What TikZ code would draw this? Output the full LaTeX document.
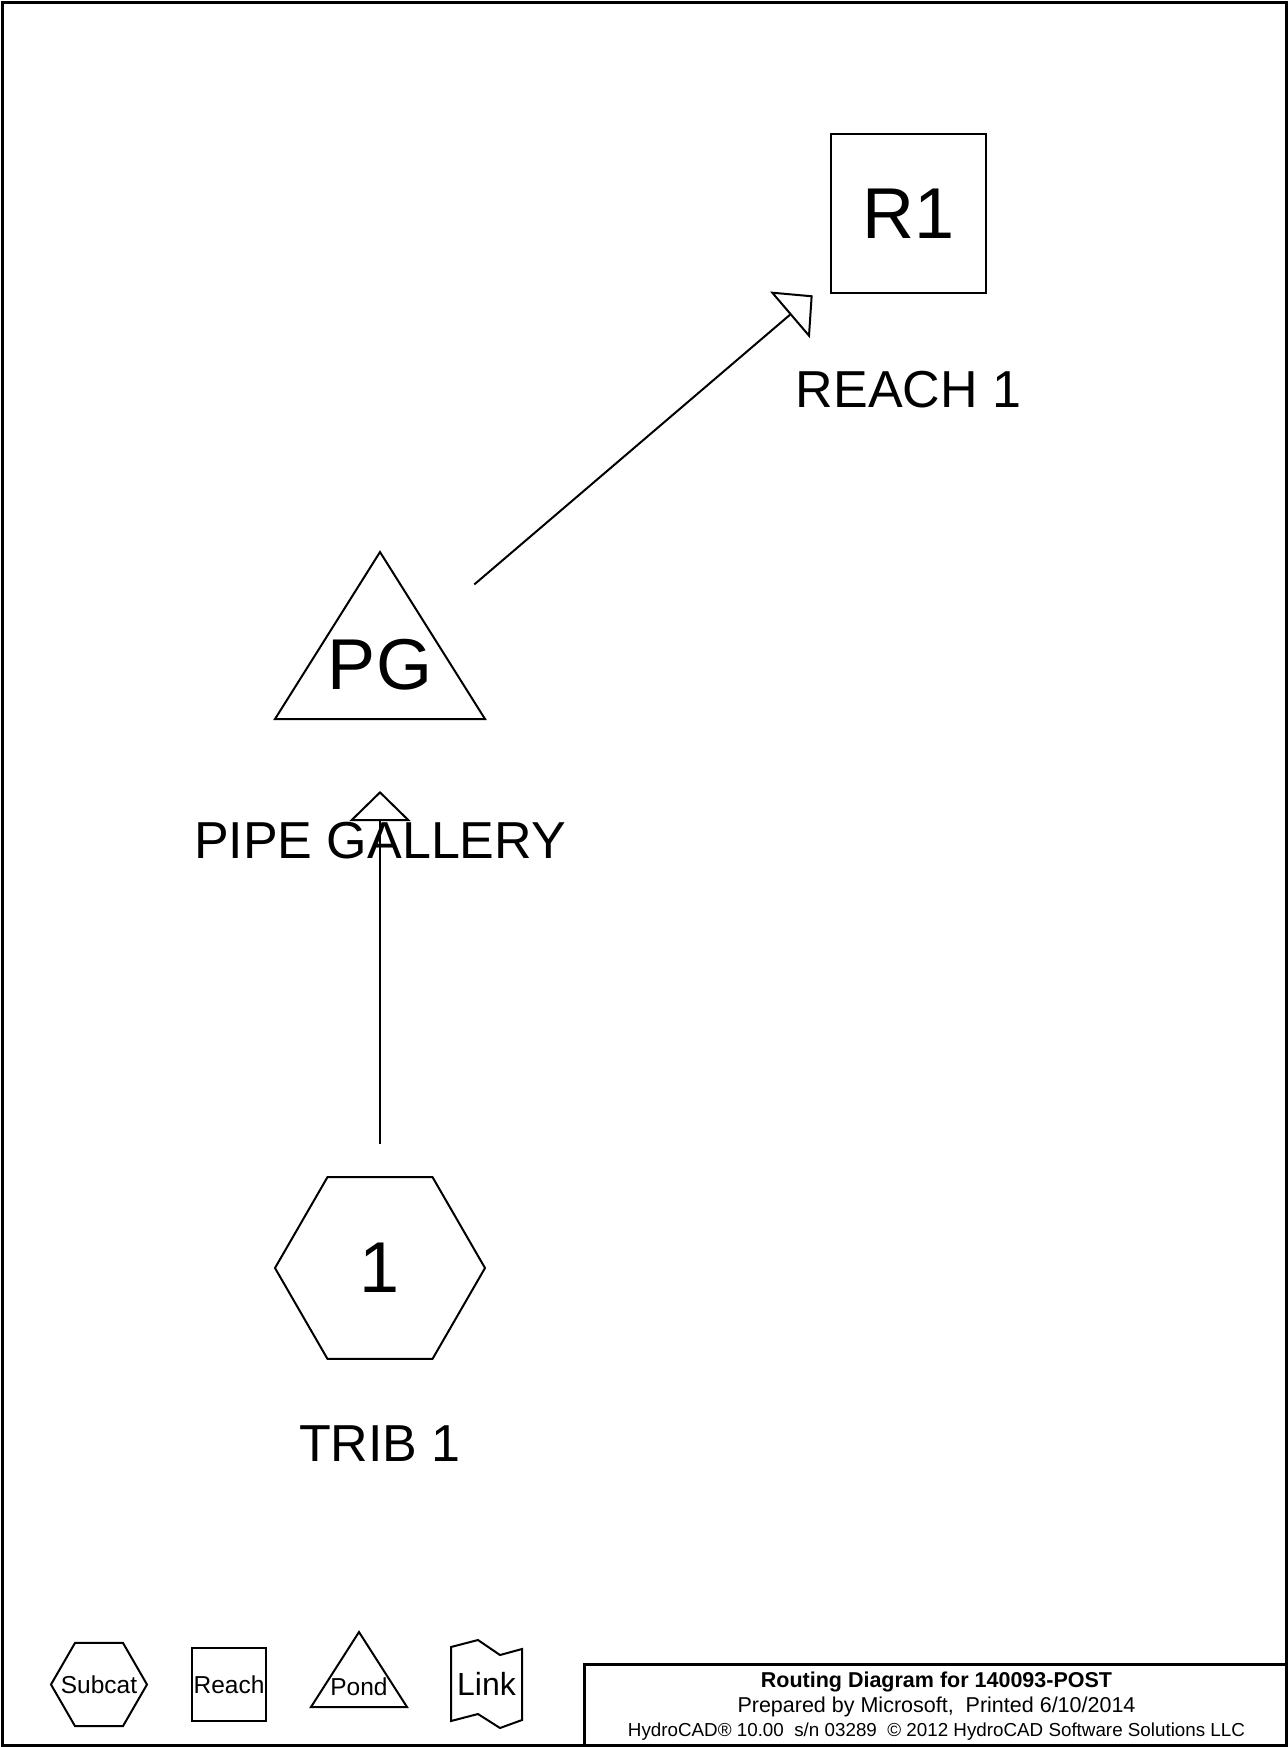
\documentclass[tikz,border=0pt]{standalone}
\usepackage{fontspec}
\setmainfont{Liberation Sans}
\usetikzlibrary{positioning,shapes.geometric,arrows.meta}

\tikzset{
  subcat/.style={draw, regular polygon, regular polygon sides=6, inner sep=0pt, line width=1pt},
  reach/.style={draw, rectangle, inner sep=0pt, line width=1pt},
  outline/.style={line width=1pt, line join=miter},
  nodetext/.style={font=\fontsize{36}{40}\selectfont},
  caption/.style={font=\fontsize{26}{30}\selectfont, inner sep=0pt},
  legendtext/.style={font=\fontsize{12.25}{14}\selectfont, inner sep=0pt},
  flow/.style={line width=1pt, -{Triangle[open, length=15pt, width=30.5pt]}, shorten <=62pt, shorten >=63pt},
}

\begin{document}
\begin{tikzpicture}[x=0.5pt, y=-0.5pt, on grid]
  \useasboundingbox (0,0) rectangle (1288,1747);
  \draw[line width=1.5pt] (2,2) rectangle (1286,1745);

  % Define nodes
  \node[subcat, minimum size=105pt, nodetext] (trib) at (380,1268) {1};
  \node[nodetext, above=301.5pt of trib] (pg) {PG};
  \node[reach, minimum width=77.5pt, minimum height=79.5pt, nodetext, above right=225.75pt and 264.25pt of pg] (r1) {R1};
  \draw[outline] (pg.center) ++(0,-113) -- ++(105,167) -- ++(-210,0) -- cycle;

  \node[caption, below=88pt of trib] (tribcap) {TRIB 1};
  \node[caption, below=88pt of pg]   (pgcap)   {PIPE GALLERY};
  \node[caption, below=88pt of r1]   (r1cap)   {REACH 1};

  % Connect the nodes
  \draw[flow] (trib.center) -- (pg.center);
  \draw[flow] (pg.center) -- (r1.center);

  % Legend
  \node[subcat, minimum size=48pt, label={[legendtext]center:Subcat}] (legsub) at (99,1684.5) {};
  \node[reach, minimum width=37pt, minimum height=36.5pt, label={[legendtext]center:Reach}, right=65pt of legsub] (legreach) {};
  \node[legendtext] (legpond) at (359,1687) {Pond};
  \draw[outline] (legpond.center) ++(0,-55) -- ++(48,75) -- ++(-96,0) -- cycle;
  \node[font=\fontsize{16}{18}\selectfont, inner sep=0pt] (leglink) at (486.5,1684) {Link};
  \draw[outline] (leglink.center) ++(-35.5,-37) -- ++(27,-7) -- ++(22,15) -- ++(22,-6)
    -- ++(0,71) -- ++(-22,8) -- ++(-22,-14) -- ++(-27,7) -- cycle;

  % Title block
  \node[draw, line width=1.5pt, minimum width=352pt, minimum height=42pt, anchor=north west,
        align=center, font=\fontsize{10.75}{12.25}\selectfont] (title) at (583,1663)
    {\textbf{Routing Diagram for 140093-POST}\\
     Prepared by Microsoft,\ \ Printed 6/10/2014\\
     {\fontsize{9.4}{12.25}\selectfont HydroCAD® 10.00\ \ s/n 03289\ \ © 2012 HydroCAD Software Solutions LLC}};

\end{tikzpicture}
\end{document}
